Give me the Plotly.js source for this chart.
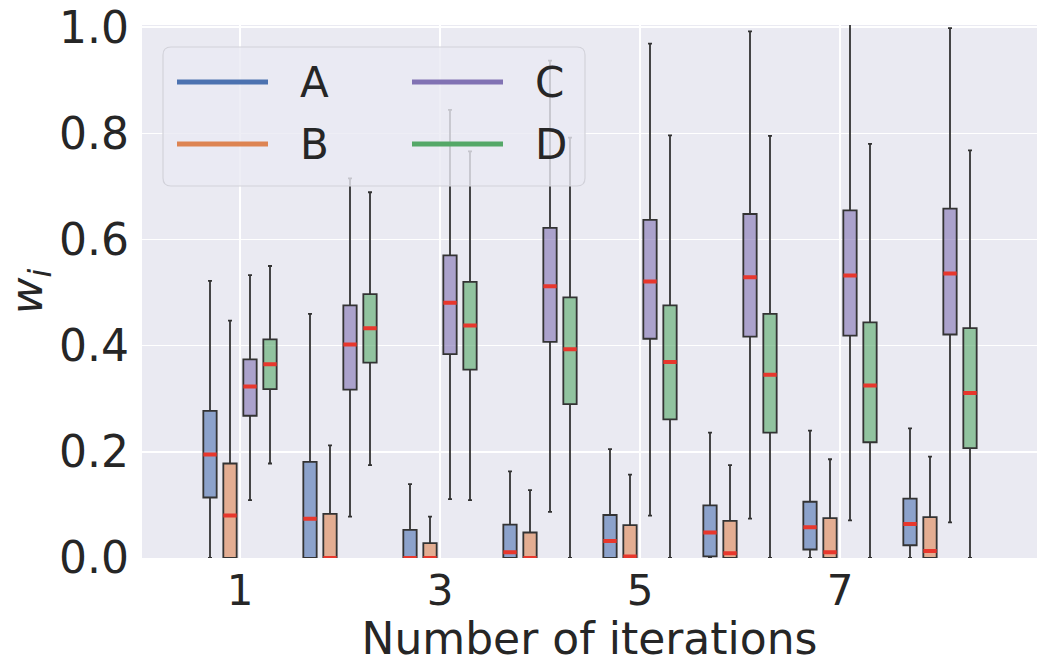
<!DOCTYPE html>
<html><head><meta charset="utf-8">
<script src="https://cdn.plot.ly/plotly-3.0.1.min.js"></script>
<style>html,body{margin:0;padding:0;background:#fff;}#chart{width:1045px;height:664px;}</style>
</head><body><div id="chart"></div>
<script>
// ---- data ----
const iterations = [1, 2, 3, 4, 5, 6, 7, 8];
const xTickVals = [1, 3, 5, 7];
const xTickText = ['1', '3', '5', '7'];
const yTickVals = [0, 0.2, 0.4, 0.6, 0.8, 1.0];
const yTickText = ['0.0', '0.2', '0.4', '0.6', '0.8', '1.0'];
const seriesNames = ['A', 'B', 'C', 'D'];

const A_lower = [0, 0, 0, 0, 0, 0, 0, 0];
const A_q1 = [0.114, 0.0, 0.0, 0.0, 0.0, 0.003, 0.016, 0.024];
const A_median = [0.195, 0.074, 0.0, 0.011, 0.032, 0.048, 0.058, 0.064];
const A_q3 = [0.277, 0.181, 0.053, 0.063, 0.081, 0.099, 0.106, 0.112];
const A_upper = [0.522, 0.460, 0.139, 0.163, 0.205, 0.236, 0.240, 0.244];

const B_lower = [0, 0, 0, 0, 0, 0, 0, 0];
const B_q1 = [0, 0, 0, 0, 0, 0, 0, 0];
const B_median = [0.080, 0.0, 0.0, 0.0, 0.003, 0.009, 0.011, 0.013];
const B_q3 = [0.178, 0.083, 0.028, 0.048, 0.062, 0.070, 0.075, 0.077];
const B_upper = [0.447, 0.212, 0.078, 0.128, 0.157, 0.175, 0.186, 0.191];

const C_lower = [0.109, 0.078, 0.111, 0.087, 0.080, 0.074, 0.071, 0.067];
const C_q1 = [0.268, 0.317, 0.384, 0.407, 0.413, 0.417, 0.419, 0.421];
const C_median = [0.323, 0.402, 0.481, 0.512, 0.521, 0.529, 0.532, 0.536];
const C_q3 = [0.374, 0.476, 0.570, 0.622, 0.637, 0.648, 0.655, 0.658];
const C_upper = [0.533, 0.715, 0.844, 0.937, 0.969, 0.992, 1.05, 0.998];

const D_lower = [0.178, 0.175, 0.109, 0, 0, 0, 0, 0];
const D_q1 = [0.318, 0.368, 0.355, 0.290, 0.261, 0.236, 0.218, 0.207];
const D_median = [0.365, 0.433, 0.438, 0.393, 0.369, 0.345, 0.325, 0.311];
const D_q3 = [0.412, 0.497, 0.520, 0.491, 0.476, 0.460, 0.444, 0.433];
const D_upper = [0.550, 0.689, 0.766, 0.792, 0.796, 0.795, 0.780, 0.768];

// ---- styles ----
const lineColors = {A: '#4c72b0', B: '#dd8452', C: '#8172b3', D: '#55a868'};
const fillColors = {A: 'rgba(76,114,176,0.6)', B: 'rgba(221,132,82,0.6)', C: 'rgba(129,114,179,0.6)', D: 'rgba(85,168,104,0.6)'};
const stats = {
  A: {lower: A_lower, q1: A_q1, median: A_median, q3: A_q3, upper: A_upper},
  B: {lower: B_lower, q1: B_q1, median: B_median, q3: B_q3, upper: B_upper},
  C: {lower: C_lower, q1: C_q1, median: C_median, q3: C_q3, upper: C_upper},
  D: {lower: D_lower, q1: D_q1, median: D_median, q3: D_q3, upper: D_upper}
};

const traces = [];
seriesNames.forEach(function (n) {
  const s = stats[n];
  traces.push({
    type: 'box', name: n, x: iterations,
    q1: s.q1, median: s.median, q3: s.q3, lowerfence: s.lower, upperfence: s.upper,
    offsetgroup: n, alignmentgroup: 'all',
    fillcolor: fillColors[n], line: {color: '#333333', width: 1.8},
    whiskerwidth: 0.3, boxpoints: false, hoverinfo: 'skip', showlegend: false
  });
});
seriesNames.forEach(function (n) {
  const s = stats[n];
  traces.push({
    type: 'box', name: n + ' median', x: iterations,
    q1: s.median, median: s.median, q3: s.median, lowerfence: s.median, upperfence: s.median,
    offsetgroup: n, alignmentgroup: 'all',
    fillcolor: 'rgba(0,0,0,0)', line: {color: '#e8372c', width: 4},
    whiskerwidth: 0, boxpoints: false, hoverinfo: 'skip', showlegend: false
  });
});

// ---- manual legend (pixel -> paper helpers) ----
const PL = 142, PR = 1037, PT = 25, PB = 558;
function px(x) { return (x - PL) / (PR - PL); }
function py(y) { return (PB - y) / (PB - PT); }
function roundRect(x0, y0, x1, y1, r) {
  const rx = r / (PR - PL), ry = r / (PB - PT);
  const X0 = px(x0), X1 = px(x1), Y0 = py(y0), Y1 = py(y1);
  return 'M' + (X0 + rx) + ',' + Y0 + ' L' + (X1 - rx) + ',' + Y0 +
    ' Q' + X1 + ',' + Y0 + ' ' + X1 + ',' + (Y0 - ry) +
    ' L' + X1 + ',' + (Y1 + ry) + ' Q' + X1 + ',' + Y1 + ' ' + (X1 - rx) + ',' + Y1 +
    ' L' + (X0 + rx) + ',' + Y1 + ' Q' + X0 + ',' + Y1 + ' ' + X0 + ',' + (Y1 + ry) +
    ' L' + X0 + ',' + (Y0 - ry) + ' Q' + X0 + ',' + Y0 + ' ' + (X0 + rx) + ',' + Y0 + ' Z';
}
const legendPos = {A: [177, 82], B: [177, 144], C: [412, 82], D: [412, 144]};
const shapes = [{
  type: 'path', xref: 'paper', yref: 'paper', layer: 'above',
  path: roundRect(163, 47, 585, 186, 8),
  fillcolor: 'rgba(234,234,242,0.8)', line: {color: '#d2d2da', width: 1.2}
}];
const annotations = [];
seriesNames.forEach(function (n) {
  const p = legendPos[n];
  shapes.push({type: 'line', xref: 'paper', yref: 'paper', layer: 'above',
    x0: px(p[0]), x1: px(p[0] + 91), y0: py(p[1]), y1: py(p[1]),
    line: {color: lineColors[n], width: 5}});
  annotations.push({xref: 'paper', yref: 'paper', x: px(p[0] + 121), y: py(p[1]),
    xanchor: 'left', yanchor: 'middle', text: n, showarrow: false,
    font: {size: 42, color: '#262626'}});
});

const layout = {
  width: 1045, height: 664,
  margin: {l: PL, r: 1045 - PR, t: PT, b: 664 - PB},
  paper_bgcolor: '#ffffff', plot_bgcolor: '#eaeaf2',
  font: {family: 'DejaVu Sans, sans-serif', color: '#262626'},
  boxmode: 'group', boxgap: 0.2, boxgroupgap: 0.333,
  showlegend: false,
  xaxis: {
    range: [0.02, 8.97], tickvals: xTickVals, ticktext: xTickText,
    showgrid: true, gridcolor: '#ffffff', gridwidth: 1.5, zeroline: false,
    showline: false, ticks: '', tickfont: {size: 42, color: '#262626'},
    ticklabelstandoff: 4, automargin: false,
    title: {text: 'Number of iterations', font: {size: 44, color: '#262626'}, standoff: 2}
  },
  yaxis: {
    range: [0, 1.004], tickvals: yTickVals, ticktext: yTickText,
    showgrid: true, gridcolor: '#ffffff', gridwidth: 1.5, zeroline: false,
    showline: false, ticks: '', tickfont: {size: 44, color: '#262626'},
    ticklabelstandoff: 12, automargin: false,
    title: {text: '<i>w<sub>i</sub></i>', font: {size: 45, color: '#262626'}, standoff: 4}
  },
  shapes: shapes, annotations: annotations
};

Plotly.newPlot('chart', traces, layout, {displayModeBar: false, staticPlot: true});
</script>
</body></html>
